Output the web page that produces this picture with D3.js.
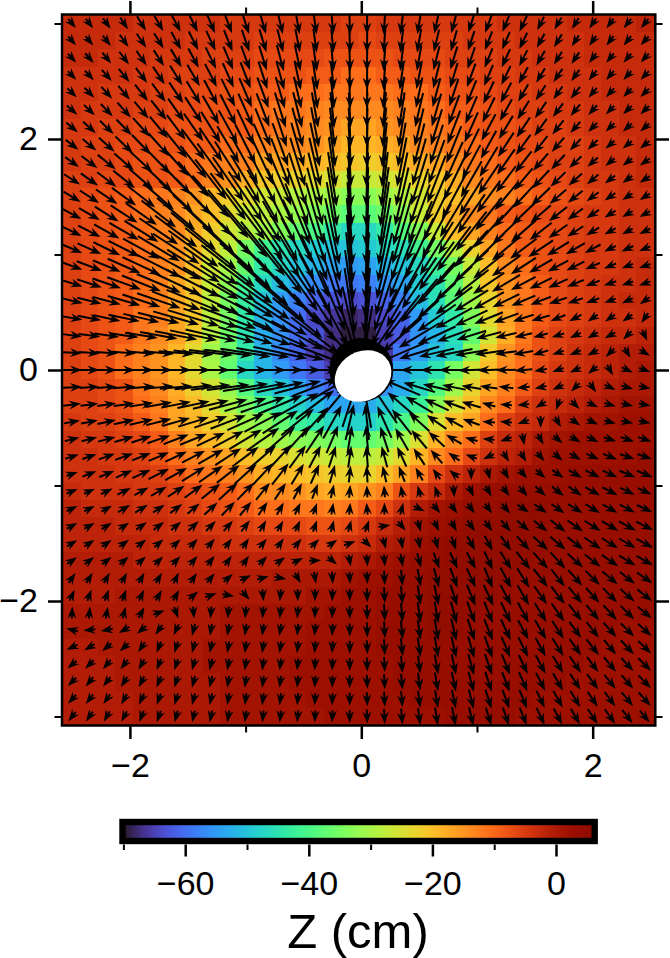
<!DOCTYPE html>
<html><head><meta charset="utf-8">
<style>html,body{margin:0;padding:0;background:#fff}svg{display:block}text{font-family:"Liberation Sans",Arial,sans-serif;fill:#000}</style>
<script src="https://cdn.jsdelivr.net/npm/d3@7"></script></head>
<body><svg id="c" width="670" height="958"></svg>
<script>
const xNodes = d3.range(34).map(i => +(-2.5 + 0.15 * i).toFixed(2));
const yNodes = d3.range(41).map(j => +(3 - 0.15 * j).toFixed(2));
const axisMajor = [-2, 0, 2];
const xMinor = [-1, 1];
const yMinor = [-3, -1, 1, 3];
const barMajor = [-60, -40, -20, 0];
const barMinor = [-70, -50, -30, -10];
const barTitle = "Z (cm)";

// vertical displacement (cm), one row per y node, top to bottom
const zRows = [
[-3,-3,-3,-3,-4,-4,-4,-4,-4,-5,-5,-5,-5,-5,-5,-5,-6,-6,-5,-5,-5,-5,-5,-5,-5,-4,-4,-4,-4,-3,-3,-3,-3,-2],
[-3,-3,-3,-4,-4,-4,-4,-5,-5,-5,-5,-6,-6,-6,-6,-6,-6,-7,-6,-6,-6,-6,-6,-5,-5,-5,-4,-4,-4,-4,-3,-3,-3,-3],
[-3,-3,-4,-4,-4,-5,-5,-5,-6,-6,-6,-7,-7,-7,-7,-8,-8,-8,-8,-7,-7,-7,-6,-6,-6,-5,-5,-4,-4,-4,-3,-3,-3,-3],
[-4,-4,-4,-4,-5,-5,-6,-6,-6,-7,-7,-8,-8,-8,-9,-9,-11,-11,-9,-9,-8,-8,-7,-7,-6,-6,-5,-5,-4,-4,-4,-3,-3,-3],
[-4,-4,-5,-5,-5,-6,-6,-7,-7,-8,-8,-9,-9,-11,-11,-12,-12,-12,-12,-11,-11,-9,-8,-8,-7,-6,-6,-5,-5,-4,-4,-3,-3,-3],
[-4,-5,-5,-5,-6,-6,-7,-7,-8,-8,-9,-11,-12,-12,-13,-14,-14,-14,-14,-13,-12,-11,-9,-9,-8,-7,-6,-6,-5,-5,-4,-4,-3,-3],
[-5,-5,-6,-6,-7,-7,-8,-8,-8,-9,-9,-11,-12,-13,-14,-15,-17,-17,-15,-14,-13,-12,-11,-9,-8,-8,-7,-6,-6,-5,-4,-4,-3,-3],
[-5,-6,-6,-7,-7,-8,-8,-9,-9,-11,-11,-13,-14,-14,-15,-17,-19,-19,-18,-17,-14,-13,-12,-11,-9,-8,-7,-7,-6,-6,-5,-4,-4,-3],
[-5,-6,-6,-7,-8,-8,-9,-11,-12,-13,-13,-17,-17,-18,-19,-20,-21,-22,-21,-20,-18,-17,-14,-12,-11,-9,-8,-7,-6,-6,-5,-4,-4,-3],
[-6,-6,-7,-7,-8,-8,-9,-11,-13,-15,-18,-21,-22,-23,-24,-25,-27,-27,-26,-25,-23,-21,-18,-14,-12,-11,-9,-8,-7,-6,-5,-5,-4,-3],
[-6,-7,-8,-9,-11,-12,-13,-15,-19,-22,-24,-26,-27,-29,-30,-31,-33,-33,-31,-29,-26,-22,-20,-17,-14,-13,-11,-9,-8,-7,-6,-5,-4,-4],
[-6,-7,-8,-9,-11,-13,-14,-17,-20,-24,-27,-28,-30,-32,-34,-36,-38,-38,-36,-33,-27,-22,-18,-14,-12,-9,-8,-7,-7,-6,-5,-5,-4,-4],
[-6,-7,-8,-9,-11,-13,-14,-18,-22,-26,-29,-31,-34,-37,-40,-44,-47,-47,-44,-39,-34,-27,-20,-17,-13,-11,-9,-8,-7,-6,-5,-5,-4,-4],
[-6,-7,-8,-9,-11,-13,-15,-19,-24,-28,-35,-41,-45,-47,-49,-50,-50,-49,-47,-46,-41,-35,-29,-23,-17,-12,-9,-8,-7,-6,-5,-5,-4,-4],
[-6,-7,-8,-9,-11,-13,-15,-20,-26,-31,-37,-44,-47,-50,-52,-54,-55,-54,-52,-50,-47,-42,-35,-27,-20,-14,-11,-8,-7,-6,-5,-5,-4,-3],
[-6,-7,-8,-9,-11,-13,-17,-21,-27,-33,-41,-47,-51,-54,-57,-59,-59,-58,-56,-54,-49,-45,-37,-29,-21,-15,-12,-9,-7,-6,-5,-4,-4,-3],
[-6,-7,-8,-9,-11,-13,-17,-21,-28,-35,-43,-50,-55,-58,-61,-63,-64,-63,-61,-58,-51,-46,-38,-31,-23,-15,-12,-9,-7,-6,-5,-4,-3,-3],
[-6,-7,-8,-9,-12,-13,-17,-21,-28,-35,-44,-52,-56,-60,-64,-66,-68,-67,-64,-61,-55,-49,-44,-34,-24,-17,-12,-9,-7,-6,-5,-4,-4,-3],
[-6,-7,-8,-9,-12,-14,-17,-22,-29,-36,-45,-53,-56,-60,-63,-67,-69,-69,-65,-62,-56,-52,-46,-37,-26,-18,-12,-8,-6,-5,-4,-3,-3,-2],
[-6,-7,-8,-11,-13,-15,-19,-24,-31,-36,-44,-52,-57,-61,-65,-67,-69,-69,-66,-59,-55,-50,-47,-33,-22,-15,-11,-8,-6,-4,-3,-2,-1,-1],
[-6,-7,-8,-11,-13,-15,-19,-24,-30,-37,-47,-52,-55,-59,-62,-65,-67,-67,-62,-54,-50,-45,-35,-26,-20,-14,-11,-7,-5,-4,-3,-2,-1,0],
[-6,-6,-7,-8,-12,-14,-18,-22,-26,-32,-39,-47,-50,-54,-58,-60,-61,-60,-56,-53,-47,-39,-31,-23,-17,-13,-9,-6,-4,-3,-2,-1,0,0],
[-6,-6,-7,-8,-11,-13,-17,-20,-24,-30,-35,-40,-44,-48,-51,-54,-54,-53,-50,-47,-42,-33,-25,-20,-14,-11,-6,-4,-3,-2,-1,0,1,1],
[-5,-6,-6,-7,-9,-12,-17,-19,-22,-26,-31,-33,-37,-42,-44,-47,-48,-48,-45,-40,-34,-25,-20,-17,-11,-6,-4,-3,-1,0,1,1,2,2],
[-4,-5,-5,-6,-7,-9,-13,-17,-19,-22,-26,-29,-31,-33,-34,-35,-37,-37,-35,-31,-25,-19,-14,-11,-6,-3,-2,0,1,2,2,2,2,2],
[-4,-4,-5,-5,-6,-8,-11,-13,-15,-17,-20,-22,-23,-25,-26,-27,-28,-28,-27,-24,-19,-14,-11,-7,-4,-2,-1,1,2,2,2,2,2,3],
[-4,-4,-4,-5,-5,-6,-8,-11,-12,-13,-15,-18,-19,-20,-21,-22,-23,-23,-20,-17,-13,-7,-4,-2,0,1,2,2,2,3,3,3,3,3],
[-3,-4,-4,-4,-5,-5,-6,-7,-8,-9,-11,-14,-14,-15,-17,-18,-17,-15,-13,-8,-5,-3,0,2,3,3,3,3,3,3,3,3,3,3],
[-2,-3,-3,-3,-4,-4,-5,-6,-7,-8,-9,-11,-11,-12,-12,-13,-12,-9,-7,-4,-1,1,2,3,3,4,4,4,3,3,3,3,3,3],
[-2,-2,-2,-3,-3,-3,-4,-4,-5,-5,-6,-7,-7,-7,-8,-8,-7,-5,-3,-1,1,2,3,4,4,4,4,4,3,3,3,3,3,3],
[-2,-2,-2,-2,-2,-3,-3,-3,-3,-4,-4,-4,-4,-4,-5,-5,-4,-3,-1,0,2,3,4,4,4,4,4,4,3,3,3,3,3,3],
[-1,-1,-1,-1,-2,-2,-2,-2,-2,-2,-2,-2,-2,-2,-2,-2,-1,0,1,2,3,3,4,4,4,4,4,3,3,3,3,3,3,3],
[-1,-1,-1,-1,-1,-1,-1,-1,-1,-1,-1,-1,0,0,0,0,1,2,2,3,3,4,4,4,4,4,3,3,3,3,3,3,3,3],
[-1,-1,-1,0,0,0,0,0,0,0,0,0,0,0,1,1,2,2,3,3,3,4,4,4,4,3,3,3,3,3,3,3,3,3],
[0,0,0,0,0,0,0,0,0,1,1,1,1,1,1,2,2,2,3,3,3,4,4,4,3,3,3,3,3,3,3,3,3,3],
[0,0,0,0,0,0,0,0,0,1,1,1,1,1,2,2,2,2,3,3,3,4,4,3,3,3,3,3,3,3,3,3,2,2],
[-1,-1,0,0,0,0,0,0,1,1,1,1,1,1,2,2,2,2,3,3,3,3,3,3,3,3,3,3,3,3,3,2,2,2],
[-1,-1,-1,0,0,0,0,0,1,1,1,1,1,2,2,2,2,2,2,3,3,3,3,3,3,3,3,3,3,3,2,2,2,2],
[-1,-1,-1,0,0,0,0,0,0,1,1,1,1,2,2,2,2,2,2,3,3,3,3,3,3,3,3,3,3,2,2,2,2,2],
[-1,-1,-1,-1,0,0,0,0,0,1,1,1,1,1,2,2,2,2,2,2,3,3,3,3,3,3,3,2,2,2,2,2,2,2],
[-1,-1,-1,-1,0,0,0,0,0,1,1,1,1,1,1,2,2,2,2,2,2,2,3,3,3,3,2,2,2,2,2,2,2,2]
];

// heading of each vector, degrees measured from south, positive toward east
const headingRows = [
[40,38,36,34,32,30,28,26,23,21,18,16,13,10,8,5,2,-1,-4,-7,-9,-12,-15,-18,-20,-23,-25,-27,-30,-32,-34,-36,-38,-39],
[41,40,38,36,34,32,29,27,25,22,19,17,14,11,8,5,2,-1,-4,-7,-10,-13,-16,-18,-21,-24,-26,-29,-31,-33,-35,-37,-39,-41],
[43,41,39,37,35,33,31,28,26,23,20,17,15,12,8,5,2,-1,-4,-7,-10,-14,-17,-19,-22,-25,-27,-30,-32,-34,-37,-39,-40,-42],
[44,43,41,39,37,34,32,30,27,24,21,18,15,12,9,6,2,-1,-4,-8,-11,-14,-17,-20,-23,-26,-29,-31,-34,-36,-38,-40,-42,-44],
[46,44,42,40,38,36,34,31,28,26,23,20,16,13,9,6,2,-1,-5,-8,-12,-15,-18,-22,-25,-28,-30,-33,-35,-38,-40,-42,-44,-46],
[48,46,44,42,40,38,35,33,30,27,24,21,17,14,10,6,3,-1,-5,-9,-13,-16,-20,-23,-26,-29,-32,-35,-37,-39,-42,-44,-46,-47],
[50,48,46,44,42,40,37,35,32,29,25,22,18,15,11,7,3,-1,-5,-9,-13,-17,-21,-24,-28,-31,-34,-36,-39,-41,-44,-46,-48,-49],
[52,50,48,46,44,42,39,37,34,31,27,24,20,16,12,7,3,-1,-6,-10,-14,-18,-22,-26,-29,-33,-36,-38,-41,-43,-46,-48,-50,-51],
[54,53,51,49,47,44,42,39,36,33,29,25,21,17,13,8,3,-2,-6,-11,-16,-20,-24,-28,-31,-35,-38,-41,-43,-46,-48,-50,-52,-54],
[57,55,53,51,49,47,44,41,38,35,31,27,23,18,14,9,3,-2,-7,-12,-17,-21,-26,-30,-34,-37,-40,-43,-46,-48,-50,-52,-54,-56],
[59,57,56,54,52,49,47,44,41,37,34,30,25,20,15,9,4,-2,-8,-13,-18,-23,-28,-32,-36,-40,-43,-46,-49,-51,-53,-55,-57,-58],
[62,60,58,57,55,52,50,47,44,40,37,32,27,22,16,10,4,-2,-8,-15,-20,-26,-31,-35,-39,-43,-46,-49,-52,-54,-56,-58,-60,-61],
[64,63,61,60,58,56,53,50,47,44,40,35,30,25,18,12,5,-2,-10,-16,-23,-28,-34,-38,-42,-46,-49,-52,-55,-57,-59,-61,-62,-64],
[67,66,64,63,61,59,57,54,51,48,44,39,34,28,21,13,5,-3,-11,-18,-25,-32,-37,-42,-46,-50,-53,-56,-58,-60,-62,-64,-65,-67],
[70,69,68,66,65,63,61,58,55,52,48,43,38,31,24,16,6,-3,-13,-21,-29,-36,-42,-47,-51,-54,-57,-60,-62,-64,-66,-67,-69,-70],
[73,72,71,70,68,67,65,63,60,57,53,49,43,36,28,18,8,-4,-15,-25,-34,-41,-47,-52,-56,-59,-62,-64,-66,-68,-69,-71,-72,-70],
[76,76,75,74,72,71,69,68,65,62,59,55,49,42,34,23,9,-5,-18,-30,-40,-47,-53,-58,-61,-64,-67,-69,-71,-72,-70,-70,-65,-55],
[80,79,78,78,77,76,74,73,71,69,66,62,57,51,42,29,13,-6,-24,-38,-48,-55,-61,-65,-68,-70,-72,-74,-68,-62,-55,-55,-55,-35],
[83,83,82,82,81,80,79,78,77,75,73,71,67,61,53,40,18,-10,-34,-49,-59,-65,-70,-73,-75,-77,-77,-75,-72,-65,-60,-60,-45,25],
[87,86,86,86,85,85,85,84,83,83,81,80,78,75,69,59,34,-18,-53,-67,-73,-77,-79,-81,-82,-82,-80,-73,-72,-68,-62,-45,30,60],
[90,90,90,90,90,90,90,90,90,90,90,90,90,90,90,90,90,-90,-90,-90,-90,-90,-90,-88,-88,-88,-85,-80,-70,-65,-50,30,65,70],
[93,94,94,94,95,95,95,96,97,97,99,100,102,105,111,121,146,-162,-127,-113,-107,-103,-101,-99,-98,-97,-85,-78,-65,-45,35,65,75,78],
[97,97,98,98,99,100,101,102,103,105,107,109,113,119,127,140,162,-170,-146,-131,-121,-115,-110,-107,-105,-95,-85,-60,-20,45,65,75,78,80],
[100,101,102,102,103,104,106,107,109,111,114,118,123,129,138,151,167,-174,-156,-142,-132,-125,-119,-110,-95,-95,-70,0,30,55,65,75,78,78],
[104,104,105,106,108,109,111,112,115,118,121,125,131,138,146,157,171,-175,-162,-150,-140,-133,-120,-105,-95,-70,10,30,50,60,65,72,72,72],
[107,108,109,110,112,113,115,117,120,123,127,131,137,144,152,162,172,-176,-165,-155,-146,-139,-125,-110,-65,30,30,40,48,60,65,68,72,72],
[110,111,112,114,115,117,119,122,125,128,132,137,142,149,156,164,174,-177,-167,-159,-151,-144,-130,0,15,30,40,48,55,60,63,65,68,68],
[113,114,116,117,119,121,123,126,129,132,136,141,146,152,159,167,175,-177,-175,-170,-165,-160,5,25,30,38,40,48,52,55,60,63,65,65],
[116,117,119,120,122,124,127,130,133,136,140,145,150,155,160,170,175,-175,180,165,65,40,35,35,35,40,55,55,55,58,58,60,62,65],
[118,120,122,123,125,127,130,133,136,139,143,150,150,155,160,165,165,160,100,40,15,25,30,35,35,40,50,52,52,55,58,60,62,63],
[121,123,124,126,128,131,133,136,139,143,146,140,145,140,135,125,110,45,15,10,10,15,20,30,28,35,42,48,50,52,55,58,60,62],
[125,127,128,130,132,134,136,139,142,145,145,135,125,115,92,50,10,5,5,10,15,20,25,28,25,32,38,42,42,48,52,55,58,60],
[145,148,150,150,150,150,155,145,140,130,115,105,80,30,10,5,3,3,3,5,10,15,20,25,22,28,32,38,38,42,45,50,52,55],
[155,160,160,160,155,150,150,130,110,80,40,5,-5,0,0,-2,0,2,3,5,8,12,18,22,25,28,30,35,38,40,42,45,48,52],
[178,175,170,165,150,110,20,5,-5,-5,-5,-5,-5,-5,-3,-2,0,2,3,5,8,10,15,20,22,25,28,32,35,38,40,42,45,50],
[-105,-85,-80,-60,-50,-35,-25,-15,-10,-10,-8,-8,-8,-6,-5,-3,0,2,3,5,8,10,13,18,22,25,28,30,33,36,38,42,45,48],
[-65,-60,-50,-48,-35,-22,-18,-15,-12,-10,-8,-8,-8,-6,-4,-3,0,2,3,5,8,10,13,16,20,23,26,29,32,35,38,40,43,46],
[-50,-45,-40,-38,-30,-22,-18,-15,-13,-10,-8,-8,-7,-6,-4,-2,0,2,3,5,7,10,12,15,19,22,25,28,31,34,37,40,43,45],
[-45,-40,-38,-33,-28,-22,-18,-15,-13,-10,-8,-8,-7,-6,-4,-2,0,2,3,5,7,10,12,15,18,21,24,27,30,33,36,39,41,44],
[-42,-38,-35,-30,-25,-20,-17,-15,-12,-10,-8,-8,-7,-5,-4,-2,0,2,3,5,7,9,12,14,18,20,23,26,29,31,34,37,40,42],
[-38,-35,-30,-28,-22,-20,-15,-13,-12,-10,-8,-7,-6,-5,-3,-2,0,2,3,5,7,9,11,13,17,19,22,25,28,30,33,36,38,40]
];

// vector magnitude at each node; 0 where the node falls inside the central hole
const speedRows = [
[11,12,13,14,17,18,19,19,21,21,22,22,22,22,22,22,22,22,22,22,22,21,20,19,20,18,18,15,14,13,11,11,11,10],
[11,12,13,15,17,18,20,21,22,23,23,24,24,24,24,24,24,24,24,24,24,23,22,21,20,19,18,16,15,13,12,11,11,10],
[12,13,14,16,18,19,21,22,24,25,26,26,27,27,27,27,26,26,26,26,26,25,24,23,21,20,18,17,15,14,12,11,11,10],
[12,13,15,17,19,21,23,25,26,27,28,29,30,30,30,29,28,28,29,29,28,27,26,25,23,21,19,17,16,14,13,12,11,10],
[13,14,16,18,21,23,25,27,29,31,32,33,33,33,33,32,31,31,32,32,31,30,29,27,25,23,20,18,16,15,13,12,11,10],
[14,15,17,20,22,25,28,31,33,35,36,36,37,37,36,36,35,35,36,36,35,34,32,30,28,25,22,20,17,15,13,12,11,10],
[15,17,19,22,25,28,31,34,37,39,40,41,41,41,41,40,39,39,40,40,39,38,36,33,30,27,24,21,18,15,13,12,11,10],
[16,18,21,24,27,31,35,38,41,43,45,46,46,46,45,45,44,44,45,45,44,42,40,36,32,29,25,22,19,16,14,12,11,10],
[17,20,23,26,30,34,38,42,46,49,51,51,51,51,50,50,49,49,50,50,49,47,44,39,35,31,27,23,20,17,14,12,11,10],
[19,21,24,28,32,37,42,47,51,54,56,57,57,56,55,55,54,54,55,55,54,51,47,42,37,33,29,25,21,18,15,13,11,10],
[20,23,26,30,35,40,46,51,56,59,61,62,62,61,60,60,59,59,60,60,59,56,51,45,40,35,31,26,22,19,15,13,12,10],
[21,24,28,32,38,44,50,56,60,63,65,67,67,66,65,65,64,64,65,65,63,60,54,48,42,37,32,27,23,19,15,13,12,10],
[21,25,29,34,40,47,53,59,64,67,69,70,70,70,69,68,67,67,68,68,66,62,56,50,44,38,33,28,23,19,15,13,12,10],
[22,26,30,35,42,49,56,62,66,69,70,70,70,70,69,68,68,68,68,68,67,63,56,50,43,37,33,30,26,22,18,13,13,10],
[22,27,30,36,42,50,57,62,66,68,69,70,70,70,69,68,68,68,68,68,66,60,53,47,40,35,30,27,23,20,16,13,12,10],
[22,26,30,36,42,48,55,60,64,66,68,68,68,68,68,67,67,67,67,66,62,56,50,44,38,33,28,25,21,18,15,13,11,10],
[22,25,29,34,40,46,52,58,62,64,66,66,66,66,66,66,66,66,65,62,57,52,46,40,35,30,26,22,19,16,14,12,11,10],
[21,24,28,32,37,43,48,54,58,60,62,63,64,64,64,64,64,64,62,58,53,47,42,36,31,27,22,19,16,14,12,11,11,10],
[20,22,25,29,33,38,43,48,52,55,57,59,60,60,60,60,60,60,58,53,48,42,36,31,26,22,18,15,13,11,11,11,11,10],
[20,21,22,24,27,31,35,40,44,48,51,54,55,55,55,55,0,0,0,48,42,36,38,33,28,22,20,16,12,11,11,10,10,10],
[20,20,20,22,24,27,30,34,38,41,44,46,46,46,46,0,0,0,0,42,37,32,30,26,22,20,18,13,11,11,11,11,11,10],
[20,20,20,23,27,30,33,38,40,43,46,48,48,48,48,48,0,0,0,40,33,28,24,20,18,15,13,11,11,11,11,11,11,11],
[18,18,19,21,24,27,30,33,37,40,44,47,48,48,48,47,47,47,45,38,32,27,24,20,14,12,11,11,11,11,11,11,11,11],
[16,17,19,21,24,26,29,32,35,38,40,42,42,42,40,38,37,36,35,32,28,24,21,18,13,12,11,10,11,11,11,11,12,12],
[15,16,18,20,21,24,27,29,31,35,38,40,40,38,33,30,28,28,27,26,24,22,18,13,11,10,10,11,11,12,13,13,14,14],
[14,15,17,19,20,22,24,26,29,31,33,35,33,28,25,23,22,22,22,22,20,18,14,11,11,10,10,11,12,13,14,15,15,15],
[12,15,16,18,20,23,25,27,29,29,30,30,27,24,21,19,17,17,17,17,15,13,11,10,10,11,12,13,14,15,16,16,17,17],
[11,12,13,15,16,18,20,22,24,25,24,22,20,18,16,14,13,12,12,11,11,11,11,10,11,12,13,14,15,16,17,17,16,15],
[10,11,12,14,15,14,15,16,18,19,18,16,14,13,12,11,11,10,10,10,11,11,11,11,12,13,14,15,16,17,17,17,17,17],
[10,10,11,12,13,13,13,14,14,14,14,13,12,11,11,11,10,10,10,10,11,11,12,13,13,15,16,17,19,19,19,19,19,19],
[10,10,10,11,11,11,12,12,12,12,12,11,11,11,11,11,11,11,11,11,12,13,14,16,17,18,19,20,20,20,20,19,19,19],
[10,10,10,10,10,11,11,11,11,11,11,10,10,10,10,10,11,11,12,13,15,17,18,19,20,21,22,22,22,21,20,20,19,19],
[10,10,10,10,10,10,10,11,11,11,11,10,10,10,10,10,11,12,14,16,18,20,21,21,22,23,23,23,22,21,20,20,19,19],
[10,10,10,10,10,10,10,10,10,10,11,10,10,10,10,11,12,14,16,18,20,21,22,23,23,23,23,22,22,21,20,20,19,19],
[10,10,10,10,10,10,11,10,10,10,10,10,10,10,11,12,13,15,17,19,21,22,23,23,23,23,23,22,22,21,20,20,19,18],
[11,11,11,11,11,11,11,11,11,11,10,10,10,10,11,12,13,15,17,19,20,22,23,23,23,23,22,22,21,20,20,19,19,18],
[11,11,11,11,11,11,11,11,11,11,11,11,11,11,11,12,13,14,16,18,20,21,22,23,23,22,22,21,21,20,20,19,19,18],
[11,11,11,11,11,11,11,11,11,11,11,11,11,11,11,12,13,14,15,17,18,20,21,22,22,22,21,21,20,20,19,19,18,18],
[11,11,11,11,11,11,11,11,11,11,11,11,11,11,11,12,13,14,15,16,18,19,20,21,21,21,21,20,20,19,19,18,18,18],
[11,11,11,11,11,11,11,11,11,11,11,11,11,11,11,12,13,14,15,16,17,18,19,20,20,20,20,19,19,19,18,18,18,18],
[11,11,11,11,11,11,11,11,11,11,11,11,11,11,11,12,13,14,15,16,17,18,19,19,19,19,19,19,18,18,18,18,17,15]
];

[["z",zRows],["h",headingRows],["s",speedRows]].forEach(([n,t])=>{
  if(t.length!==41) throw new Error(n+" rows "+t.length);
  t.forEach((r,j)=>{ if(r.length!==34) throw new Error(n+" row "+j+" has "+r.length); });
});

const svg = d3.select("#c");
const x = d3.scaleLinear().domain([-2.6, 2.55]).range([60.5, 656.3]);
const y = d3.scaleLinear().domain([-3.07, 3.07]).range([724.6, 15.4]);
const color = d3.scaleSequential(d3.interpolateTurbo).domain([-70, 5.8]);
const arrowLen = d3.scaleLinear().domain([0, 100]).range([0, 100]);
const fmt = v => String(v).replace("-", "\u2212");

const defs = svg.append("defs");
defs.append("clipPath").attr("id", "plot").append("rect")
  .attr("x", 62).attr("y", 14.5).attr("width", 593.3).attr("height", 711);

const cells = [], arrows = [];
yNodes.forEach((yv, j) => xNodes.forEach((xv, i) => {
  cells.push({xv, yv, z: zRows[j][i], i, j});
  if (speedRows[j][i] > 0) arrows.push({xv, yv, a: headingRows[j][i], s: speedRows[j][i]});
}));

const plot = svg.append("g").attr("clip-path", "url(#plot)");
const half = 0.075;
plot.append("g").attr("shape-rendering", "crispEdges").selectAll("rect").data(cells).join("rect")
  .attr("x", d => x(d.xv - half - (d.i === 0 ? half * 2 : 0)))
  .attr("y", d => y(d.yv + half))
  .attr("width", d => x(d.xv + half + (d.i === 33 ? half * 2 : 0)) - x(d.xv - half - (d.i === 0 ? half * 2 : 0)) + 0.5)
  .attr("height", d => y(d.yv - half) - y(d.yv + half) + 0.5)
  .attr("fill", d => color(d.z));

const headLen = 12, headHalf = 4.4, notch = 8;
const ag = plot.append("g").selectAll("g").data(arrows).join("g")
  .attr("transform", d => `translate(${x(d.xv)},${y(d.yv)}) rotate(${90 - d.a})`);
ag.append("line")
  .attr("x1", d => -Math.max(arrowLen(d.s), headLen) / 2)
  .attr("x2", d => Math.max(arrowLen(d.s), headLen) / 2 - notch + 1)
  .attr("y1", 0).attr("y2", 0).attr("stroke", "#000").attr("stroke-width", 2);
ag.append("path")
  .attr("d", d => {
    const t = Math.max(arrowLen(d.s), headLen) / 2;
    return `M${t},0L${t - headLen},${-headHalf}L${t - notch},0L${t - headLen},${headHalf}Z`;
  }).attr("fill", "#000");

plot.append("circle").attr("cx", x(0)).attr("cy", y(0)).attr("r", 32).attr("fill", "#000");
plot.append("ellipse").attr("rx", 29.5).attr("ry", 24.5).attr("fill", "#fff")
  .attr("transform", `translate(${x(0.015)},${y(-0.052)}) rotate(-30)`);

svg.append("rect").attr("x", 62).attr("y", 14.5).attr("width", 593.3).attr("height", 711)
  .attr("fill", "none").attr("stroke", "#000").attr("stroke-width", 2.5);

function styleAxis(g, w) {
  g.select(".domain").remove();
  g.selectAll(".tick line").attr("stroke", "#000").attr("stroke-width", w);
  g.selectAll(".tick text").attr("font-size", 34).attr("fill", "#000").attr("font-family", '"Liberation Sans"');
}
const bottomMajor = d3.axisBottom(x).tickValues(axisMajor).tickSize(13).tickPadding(14).tickFormat(fmt);
const leftMajor = d3.axisLeft(y).tickValues(axisMajor).tickSize(13).tickPadding(10).tickFormat(fmt);
svg.append("g").attr("transform", "translate(0,726)").call(bottomMajor).call(styleAxis, 2.5);
svg.append("g").attr("transform", "translate(61,0)").call(leftMajor).call(styleAxis, 2.5);
svg.append("g").attr("transform", "translate(0,14)").call(d3.axisTop(x).tickValues(axisMajor).tickSize(13).tickFormat("")).call(styleAxis, 2.5);
svg.append("g").attr("transform", "translate(656,0)").call(d3.axisRight(y).tickValues(axisMajor).tickSize(13).tickFormat("")).call(styleAxis, 2.5);
svg.append("g").attr("transform", "translate(0,726)").call(d3.axisBottom(x).tickValues(xMinor).tickSize(6.5).tickFormat("")).call(styleAxis, 2);
svg.append("g").attr("transform", "translate(0,14)").call(d3.axisTop(x).tickValues(xMinor).tickSize(6.5).tickFormat("")).call(styleAxis, 2);
svg.append("g").attr("transform", "translate(61,0)").call(d3.axisLeft(y).tickValues(yMinor).tickSize(6.5).tickFormat("")).call(styleAxis, 2);
svg.append("g").attr("transform", "translate(656,0)").call(d3.axisRight(y).tickValues(yMinor).tickSize(6.5).tickFormat("")).call(styleAxis, 2);

// colour bar
const bar = d3.scaleLinear().domain([-70, 0]).range([123.4, 556]);
const grad = defs.append("linearGradient").attr("id", "bar");
d3.range(0, 1.0001, 0.02).forEach(t => grad.append("stop").attr("offset", t).attr("stop-color", d3.interpolateTurbo(t)));
svg.append("rect").attr("x", 122.5).attr("y", 822).attr("width", 472.2).attr("height", 19)
  .attr("fill", "url(#bar)").attr("stroke", "#000").attr("stroke-width", 6.4);
svg.append("g").attr("transform", "translate(0,844.5)")
  .call(d3.axisBottom(bar).tickValues(barMajor).tickSize(12).tickPadding(14).tickFormat(fmt)).call(styleAxis, 2.5);
svg.append("g").attr("transform", "translate(0,844.5)")
  .call(d3.axisBottom(bar).tickValues(barMinor).tickSize(5.5).tickFormat("")).call(styleAxis, 2);
svg.append("text").attr("x", 358).attr("y", 948).attr("text-anchor", "middle").attr("font-size", 49).text(barTitle);
</script></body></html>
